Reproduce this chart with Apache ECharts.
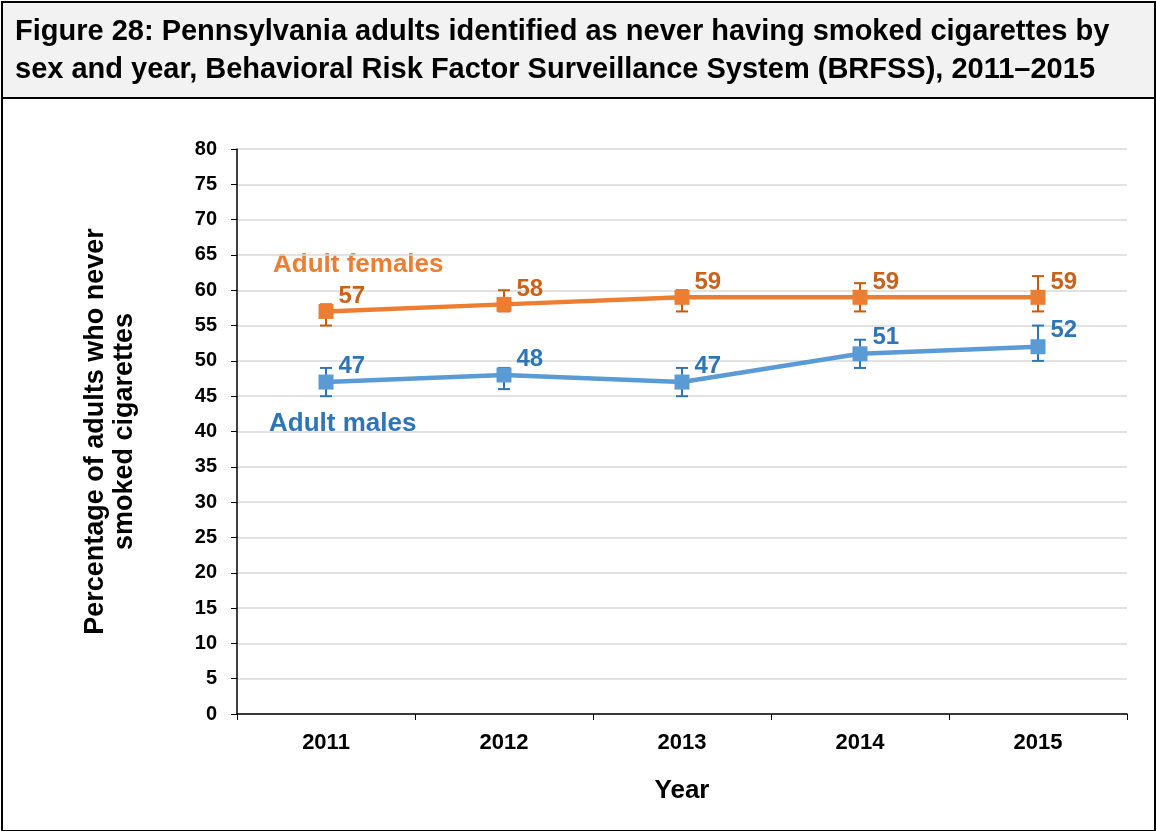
<!DOCTYPE html>
<html><head><meta charset="utf-8">
<script src="https://cdn.jsdelivr.net/npm/echarts@6/dist/echarts.min.js"></script>
<style>html,body{margin:0;padding:0;background:#fff}#c{width:1156px;height:831px}</style>
</head><body><div id="c"></div>
<script>
const years = ['2011','2012','2013','2014','2015'];
const females = [57, 58, 59, 59, 59];
const femalesLow = [55, 57, 57, 57, 57];
const femalesHigh = [58, 60, 60, 61, 62];
const males = [47, 48, 47, 51, 52];
const malesLow = [45, 46, 45, 49, 50];
const malesHigh = [49, 49, 49, 53, 55];
const yTicks = [0,5,10,15,20,25,30,35,40,45,50,55,60,65,70,75,80];

const F = 'Liberation Sans, Arial, sans-serif';
const fLine = '#ED7D31', fText = '#C9621A';
const mLine = '#5B9BD5', mText = '#2E75B6';

function errSeries(low, high, color) {
  return {
    type: 'custom', z: 3,
    data: years.map((y, i) => [i, low[i], high[i]]),
    renderItem: function (params, api) {
      const x = api.coord([api.value(0), api.value(1)])[0];
      const yl = api.coord([api.value(0), api.value(1)])[1];
      const yh = api.coord([api.value(0), api.value(2)])[1];
      const w = 6;
      const st = { stroke: color, lineWidth: 2 };
      return { type: 'group', children: [
        { type: 'line', shape: { x1: x, y1: yl, x2: x, y2: yh }, style: st },
        { type: 'line', shape: { x1: x - w, y1: yl, x2: x + w, y2: yl }, style: st },
        { type: 'line', shape: { x1: x - w, y1: yh, x2: x + w, y2: yh }, style: st }
      ]};
    }
  };
}

const chart = echarts.init(document.getElementById('c'));
chart.setOption({
  animation: false,
  title: {
    text: 'Figure 28: Pennsylvania adults identified as never having smoked cigarettes by\nsex and year, Behavioral Risk Factor Surveillance System (BRFSS), 2011–2015',
    left: 10, top: 8,
    textStyle: { fontFamily: F, fontSize: 29, fontWeight: 'bold', color: '#000', lineHeight: 38 }
  },
  graphic: [
    { type: 'rect', left: 1, top: 1, z: -10, shape: { width: 1153, height: 96 }, style: { fill: '#f2f2f2', stroke: '#000', lineWidth: 2 } },
    { type: 'rect', left: 1, top: 1, z: -11, shape: { width: 1153, height: 829 }, style: { fill: '#fff', stroke: '#000', lineWidth: 2 } },
    { type: 'text', left: 273, top: 252, style: { text: 'Adult females', fill: fLine, font: 'bold 26px ' + F } },
    { type: 'text', left: 269, top: 411, style: { text: 'Adult males', fill: mText, font: 'bold 26px ' + F } }
  ],
  grid: { left: 237, right: 29, top: 149, bottom: 117 },
  xAxis: {
    type: 'category', data: years, boundaryGap: true,
    name: 'Year', nameLocation: 'middle', nameGap: 64,
    nameTextStyle: { fontFamily: F, fontSize: 26, fontWeight: 'bold', color: '#000' },
    axisLine: { lineStyle: { color: '#000', width: 1.5 } },
    axisTick: { show: true, alignWithLabel: false, length: 6, lineStyle: { color: '#000' } },
    axisLabel: { fontFamily: F, fontSize: 22, fontWeight: 'bold', color: '#000', margin: 18 }
  },
  yAxis: {
    type: 'value', min: 0, max: 80, interval: 5,
    name: 'Percentage of adults who never\nsmoked cigarettes', nameLocation: 'middle', nameRotate: 90, nameGap: 98,
    nameTextStyle: { fontFamily: F, fontSize: 27, fontWeight: 'bold', color: '#000', lineHeight: 29 },
    axisLine: { show: true, lineStyle: { color: '#000', width: 1.5 } },
    axisTick: { show: true, length: 6, lineStyle: { color: '#000' } },
    axisLabel: { fontFamily: F, fontSize: 20, fontWeight: 'bold', color: '#000', margin: 20,
      formatter: v => yTicks.includes(v) ? String(v) : '' },
    splitLine: { lineStyle: { color: '#d9d9d9', width: 1.5 } }
  },
  series: [
    errSeries(femalesLow, femalesHigh, '#C55A11'),
    errSeries(malesLow, malesHigh, '#2E75B6'),
    {
      name: 'Adult females', type: 'line', data: females, z: 4,
      symbol: 'rect', symbolSize: 15,
      lineStyle: { color: fLine, width: 4.5 }, itemStyle: { color: fLine },
      label: { show: true, position: 'right', distance: 5, offset: [0, -15],
        fontFamily: F, fontSize: 24, fontWeight: 'bold', color: fText }
    },
    {
      name: 'Adult males', type: 'line', data: males, z: 4,
      symbol: 'rect', symbolSize: 15,
      lineStyle: { color: mLine, width: 4.5 }, itemStyle: { color: mLine },
      label: { show: true, position: 'right', distance: 5, offset: [0, -16],
        fontFamily: F, fontSize: 24, fontWeight: 'bold', color: mText }
    }
  ]
});
</script></body></html>
